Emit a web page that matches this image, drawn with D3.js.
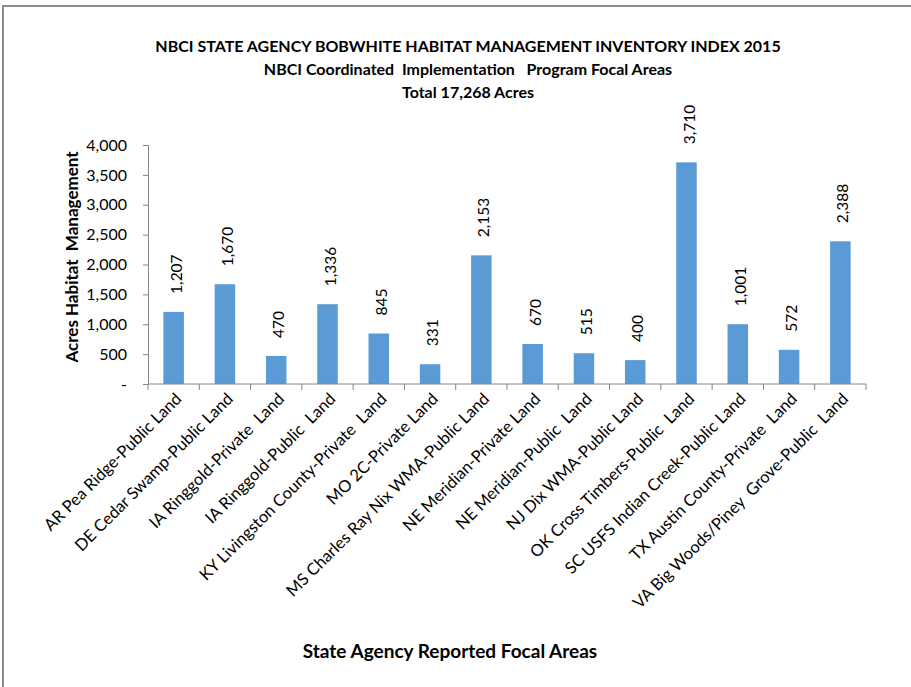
<!DOCTYPE html>
<html>
<head>
<meta charset="utf-8">
<script src="https://cdn.jsdelivr.net/npm/d3@7"></script>
<style>
  body { margin: 0; background: #fff; }
  svg { display: block; font-family: Lato, "Open Sans", sans-serif; }
</style>
</head>
<body>
<svg id="chart" width="911" height="687"></svg>
<script>
// chart data
var titleLines = [
    "NBCI STATE AGENCY BOBWHITE HABITAT MANAGEMENT INVENTORY INDEX 2015",
    "NBCI Coordinated  Implementation   Program Focal Areas",
    "Total 17,268 Acres"
];
var areas = [
    "AR Pea Ridge-Public Land",
    "DE Cedar Swamp-Public Land",
    "IA Ringgold-Private  Land",
    "IA Ringgold-Public  Land",
    "KY Livingston County-Private  Land",
    "MO 2C-Private Land",
    "MS Charles Ray Nix WMA-Public Land",
    "NE Meridian-Private Land",
    "NE Meridian-Public  Land",
    "NJ Dix WMA-Public Land",
    "OK Cross Timbers-Public  Land",
    "SC USFS Indian Creek-Public Land",
    "TX Austin County-Private  Land",
    "VA Big Woods/Piney  Grove-Public  Land"
];
var acres = [1207, 1670, 470, 1336, 845, 331, 2153, 670, 515, 400, 3710, 1001, 572, 2388];
var yTicks = [0, 500, 1000, 1500, 2000, 2500, 3000, 3500, 4000];

var plot = {left: 148, right: 866, top: 145, bottom: 384};
var barColor = "#5b9bd5";
var axisColor = "#868686";

var svg = d3.select("#chart");

// outer chart border (only top and left are inside the window)
svg.append("rect")
    .attr("x", 3).attr("y", 6)
    .attr("width", 1000).attr("height", 1000)
    .attr("fill", "none")
    .attr("stroke", "#8c8c8c")
    .attr("stroke-width", 2);

var x = d3.scaleBand()
    .domain(areas)
    .range([plot.left, plot.right])
    .paddingInner(0.6)
    .paddingOuter(0.3);

var y = d3.scaleLinear()
    .domain([0, 4000])
    .range([plot.bottom, plot.top]);

var fmt = d3.format(",");

// titles
svg.append("g").selectAll("text")
    .data(titleLines).enter().append("text")
    .attr("x", 468)
    .attr("y", function(d, i) { return 52 + i * 23; })
    .attr("text-anchor", "middle")
    .attr("font-weight", "bold")
    .attr("font-size", 16)
    .attr("fill", "#000")
    .style("white-space", "pre")
    .text(function(d) { return d; });

// bars
svg.append("g").selectAll("rect")
    .data(acres).enter().append("rect")
    .attr("x", function(d, i) { return x(areas[i]); })
    .attr("y", function(d) { return y(d); })
    .attr("width", x.bandwidth())
    .attr("height", function(d) { return plot.bottom - y(d); })
    .attr("fill", barColor);

// value labels, rotated
svg.append("g").selectAll("text")
    .data(acres).enter().append("text")
    .attr("transform", function(d, i) {
        var cx = x(areas[i]) + x.bandwidth() / 2;
        return "translate(" + (cx + 8) + "," + (y(d) - 18) + ") rotate(-90)";
    })
    .attr("font-size", 15.5)
    .attr("fill", "#000")
    .text(function(d) { return fmt(d); });

// y axis
var yAxis = d3.axisLeft(y)
    .tickValues(yTicks)
    .tickSize(5)
    .tickPadding(16)
    .tickFormat(function(d) { return d === 0 ? "-" : fmt(d); });

var gy = svg.append("g")
    .attr("transform", "translate(" + plot.left + ",0)")
    .call(yAxis);
gy.select(".domain").attr("stroke", axisColor);
gy.selectAll(".tick line").attr("stroke", axisColor);
gy.selectAll(".tick text")
    .attr("font-size", 16)
    .attr("font-family", "Lato, sans-serif")
    .attr("fill", "#000");

// x axis: line and ticks at band edges
var edges = areas.map(function(a) { return x(a) - x.step() * x.paddingInner() / 2; });
edges.push(plot.right);

var gx = svg.append("g");
gx.append("line")
    .attr("x1", plot.left).attr("x2", plot.right)
    .attr("y1", plot.bottom).attr("y2", plot.bottom)
    .attr("stroke", axisColor);
gx.selectAll("line.tick")
    .data(edges).enter().append("line")
    .attr("class", "tick")
    .attr("x1", function(d) { return d; }).attr("x2", function(d) { return d; })
    .attr("y1", plot.bottom).attr("y2", plot.bottom + 6)
    .attr("stroke", axisColor);

gx.selectAll("text")
    .data(areas).enter().append("text")
    .attr("transform", function(d) {
        var cx = x(d) + x.bandwidth() / 2;
        return "translate(" + (cx + 9) + "," + (plot.bottom + 16) + ") rotate(-45)";
    })
    .attr("text-anchor", "end")
    .attr("font-size", 16.5)
    .attr("fill", "#000")
    .style("white-space", "pre")
    .text(function(d) { return d; });

// axis titles
svg.append("text")
    .attr("transform", "translate(78,257) rotate(-90)")
    .attr("text-anchor", "middle")
    .attr("font-weight", "bold")
    .attr("font-size", 17)
    .style("white-space", "pre")
    .text("Acres Habitat  Management");

svg.append("text")
    .attr("x", 450)
    .attr("y", 658)
    .attr("text-anchor", "middle")
    .attr("font-weight", "bold")
    .attr("font-size", 19)
    .text("State Agency Reported Focal Areas");
</script>
</body>
</html>
